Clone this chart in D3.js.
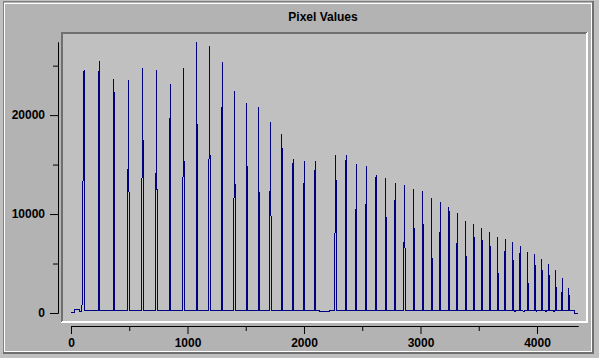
<!DOCTYPE html>
<html>
<head>
<meta charset="utf-8">
<script src="https://cdn.jsdelivr.net/npm/d3@7"></script>
<style>
  html, body { margin: 0; padding: 0; background: #c0c0c0; }
  svg { display: block; }
  text { font-family: "Liberation Sans", Arial, sans-serif; font-weight: bold; }
</style>
</head>
<body>
<svg id="chart" width="599" height="358"></svg>
<script>
// ---------------- data ----------------
const title = "Pixel Values";
const xDomain = [0, 4352];
const yDomain = [0, 27390];
const xMajorTicks = [0, 1000, 2000, 3000, 4000];
const xMinorTicks = [500, 1500, 2500, 3500];
const yMajorTicks = [0, 10000, 20000];
const yMinorTicks = [5000, 15000, 25000];

const baseLevel = 300;
// leading samples before the first peak [x, value]
const startPts = [[0, 100], [26, 100], [27, 400], [69, 400], [70, 200], [86, 200]];
// trailing samples [x, value]
const endPts = [[4320, 300], [4321, 0], [4352, 0]];
// short dips of the baseline [from, to]
const dipRanges = [[2131, 2217], [3805, 3812], [3880, 3890], [3994, 4000], [4071, 4078], [4140, 4147]];
const dipLevel = 200;

// peak start positions (first sample column)
const peakX = [90, 236, 365, 485, 605, 725, 845, 957, 1077, 1180, 1292, 1395, 1506, 1609, 1704, 1807,
  1901, 1996, 2090, 2262, 2356, 2442, 2528, 2614, 2700, 2777, 2854, 2940, 3017, 3094, 3163, 3240,
  3309, 3386, 3455, 3524, 3592, 3661, 3721, 3790, 3850, 3918, 3979, 4039, 4099, 4159, 4210, 4270];
// values of successive sample columns of each peak
const peakCols = [
  [580, 1080, 24360, 24560],
  [23450, 25470],
  [23650, 21090],
  [5000, 23650, 1490],
  [580, 24860, 11200],
  [980, 24560, 2600],
  [15150, 23150],
  [1180, 24860, 6850],
  [27390, 11810],
  [1280, 26990, 6950],
  [16360, 25370],
  [680, 22440, 3710],
  [21320, 10090],
  [20920, 5740],
  [5230, 19400, 470],
  [18090, 15350],
  [14540, 15660],
  [10900, 15450],
  [13430, 15450],
  [370, 16060, 10800],
  [14850, 16060],
  [5530, 15150],
  [7150, 14950],
  [13530, 14040],
  [13740, 5330],
  [9580, 13230],
  [580, 13030, 880],
  [12620, 4830],
  [12420, 6240],
  [11710, 880],
  [4730, 11300],
  [10800, 10090],
  [3810, 10190],
  [9380, 2900],
  [9080, 6340],
  [8680, 6040],
  [8270, 5640],
  [7760, 680],
  [5030, 7560],
  [7260, 3610],
  [5330, 6850],
  [6240, 680],
  [6040, 3710],
  [5530, 3210],
  [5030, 2700],
  [4420, 880],
  [475, 3610],
  [2600, 1390]
];

// ---------------- drawing ----------------
const svg = d3.select("#chart");
const W = 599, H = 358;

// outer panel
svg.append("rect").attr("x", 0).attr("y", 0).attr("width", W).attr("height", H).attr("fill", "#c0c0c0");
svg.append("rect").attr("x", 3).attr("y", 1).attr("width", 591).attr("height", 353).attr("fill", "#b3b3b3");
function hline(x1, x2, y, c) {
  svg.append("line").attr("x1", x1).attr("x2", x2).attr("y1", y + 0.5).attr("y2", y + 0.5)
    .attr("stroke", c).attr("stroke-width", 1);
}
function vline(x, y1, y2, c) {
  svg.append("line").attr("x1", x + 0.5).attr("x2", x + 0.5).attr("y1", y1).attr("y2", y2)
    .attr("stroke", c).attr("stroke-width", 1);
}
// outer etched border
hline(3, 594, 1, "#808080");
vline(3, 1, 354, "#808080");
hline(4, 592, 3, "#ffffff");
vline(4, 3, 352, "#ffffff");
vline(591, 3, 352, "#ffffff");
hline(4, 592, 351, "#ffffff");
vline(592, 1, 354, "#707070");
vline(593, 1, 354, "#707070");
hline(3, 594, 352, "#707070");
hline(3, 594, 353, "#707070");

// title
svg.append("text").attr("x", 323).attr("y", 21).attr("text-anchor", "middle")
  .attr("font-size", 12).attr("fill", "#000").text(title);

// plot area (sunken)
svg.append("rect").attr("x", 61).attr("y", 32).attr("width", 527).attr("height", 291).attr("fill", "#c0c0c0");
hline(61, 588, 32, "#707070");
hline(61, 587, 33, "#707070");
vline(61, 32, 323, "#707070");
vline(62, 32, 322, "#707070");
vline(587, 32, 323, "#ffffff");
vline(586, 33, 323, "#ffffff");
hline(61, 588, 322, "#ffffff");
hline(62, 588, 321, "#ffffff");

// scales
const x = d3.scaleLinear().domain(xDomain).range([71, 578]);
const y = d3.scaleLinear().domain(yDomain).range([313, 42]);

// axes
function styleAxis(g) {
  g.attr("font-family", null).attr("font-size", null);
  g.selectAll("path,line").attr("stroke", "#000");
  g.selectAll("text").attr("font-size", 12).attr("fill", "#000");
}
svg.append("g").attr("transform", "translate(58,0)")
  .call(d3.axisLeft(y).tickValues(yMinorTicks).tickSize(5).tickSizeOuter(0).tickFormat(""))
  .call(styleAxis);
svg.append("g").attr("transform", "translate(58,0)")
  .call(d3.axisLeft(y).tickValues(yMajorTicks).tickSize(8).tickSizeOuter(0).tickPadding(5).tickFormat(d3.format("d")))
  .call(styleAxis);
svg.append("g").attr("transform", "translate(0,326)")
  .call(d3.axisBottom(x).tickValues(xMinorTicks).tickSize(5).tickSizeOuter(0).tickFormat(""))
  .call(styleAxis);
svg.append("g").attr("transform", "translate(0,326)")
  .call(d3.axisBottom(x).tickValues(xMajorTicks).tickSize(8).tickSizeOuter(0).tickPadding(4).tickFormat(d3.format("d")))
  .call(styleAxis);

// build line samples
const step = x.invert(x(0) + 1) - x.invert(x(0)); // one pixel column in data units
const pts = startPts.map(p => p.slice());
peakX.forEach((px, i) => {
  const cols = peakCols[i];
  pts.push([px - 1, baseLevel]);
  cols.forEach((v, j) => pts.push([px + j * step, v]));
  pts.push([px + (cols.length - 1) * step + 1, baseLevel]);
});
dipRanges.forEach(([a, b]) => {
  pts.push([a - 1, baseLevel], [a, dipLevel], [b, dipLevel], [b + 1, baseLevel]);
});
endPts.forEach(p => pts.push(p.slice()));
pts.sort((a, b) => a[0] - b[0]);

const line = d3.line().x(d => x(d[0])).y(d => y(d[1]));
svg.append("path")
  .attr("transform", "translate(0,0.5)")
  .attr("d", line(pts))
  .attr("fill", "none")
  .attr("stroke", "#000080")
  .attr("stroke-width", 1)
  .attr("shape-rendering", "crispEdges");
</script>
</body>
</html>
